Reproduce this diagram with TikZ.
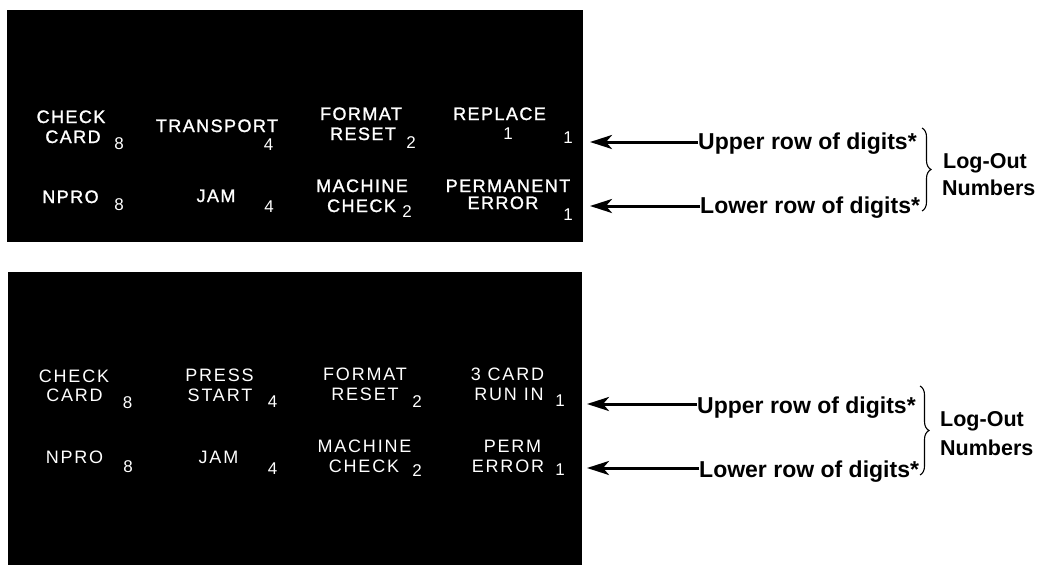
\documentclass[tikz,border=0pt]{standalone}
\usepackage{fontspec}
\setmainfont{Liberation Sans}
\newfontfamily\panelfont[LetterSpace=8,FakeBold=1.3]{Liberation Sans}
\newfontfamily\paneltwofont[LetterSpace=10]{Liberation Sans}
\usetikzlibrary{arrows.meta,decorations.pathreplacing}
\begin{document}
\begin{tikzpicture}[x=1pt,y=-1pt,
  lab/.style={text=white,font=\panelfont\fontsize{18}{18}\selectfont,inner sep=0pt,anchor=base},
  labb/.style={text=white,font=\paneltwofont\fontsize{18}{18}\selectfont,inner sep=0pt,anchor=base},
  dig/.style={text=white,font=\fontsize{17}{17}\selectfont,inner sep=0pt,anchor=base},
  note/.style={font=\bfseries\fontsize{23}{23}\selectfont,inner sep=0pt,anchor=base west},
  side/.style={font=\bfseries\fontsize{21.5}{21.5}\selectfont,inner sep=0pt,anchor=base west},
  ptr/.style={line width=3pt,-{Stealth[length=22pt,width=14pt,inset=6pt]}},
  brc/.style={decorate,decoration={brace,amplitude=9pt},line width=1.1pt},
  panel/.style={fill=black,draw=none}]
\useasboundingbox (0,0) rectangle (1041,565);
% panels
\fill[panel] (7,10) rectangle (583,242);
\fill[panel] (8,272) rectangle (582,565);

% ---- panel 1 ----
\node[lab] (p1a1) at (71,123) {CHECK};
\node[lab] (p1a2) at (73,143) {CARD};
\node[dig] (p1a3) at (119,149) {8};
\node[lab] (p1b1) at (217,132) {TRANSPORT};
\node[dig] (p1b3) at (268.5,150) {4};
\node[lab] (p1c1) at (361,120) {FORMAT};
\node[lab] (p1c2) at (363,140) {RESET};
\node[dig] (p1c3) at (411,148) {2};
\node[lab] (p1d1) at (499.5,120) {REPLACE};
\node[dig] (p1d2) at (508,139) {1};
\node[dig] (p1d3) at (568,143) {1};
\node[lab] (p1e1) at (70.5,203) {NPRO};
\node[dig] (p1e3) at (119,210) {8};
\node[lab] (p1f1) at (216,202) {JAM};
\node[dig] (p1f3) at (269,212) {4};
\node[lab] (p1g1) at (362,192) {MACHINE};
\node[lab] (p1g2) at (361.5,212) {CHECK};
\node[dig] (p1g3) at (407,217) {2};
\node[lab] (p1h1) at (508,192) {PERMANENT};
\node[lab] (p1h2) at (503,209) {ERROR};
\node[dig] (p1h3) at (568,220) {1};

% ---- panel 2 ----
\node[labb] (p2a1) at (74,382) {CHECK};
\node[labb] (p2a2) at (74.5,401) {CARD};
\node[dig] (p2a3) at (127.5,408) {8};
\node[labb] (p2b1) at (219.5,381) {PRESS};
\node[labb] (p2b2) at (220,401) {START};
\node[dig] (p2b3) at (272.5,407) {4};
\node[labb] (p2c1) at (365,380) {FORMAT};
\node[labb] (p2c2) at (365,400) {RESET};
\node[dig] (p2c3) at (417,407) {2};
\node[labb] (p2d1) at (507.5,380) {3 CARD};
\node[labb] (p2d2) at (509,400) {RUN IN};
\node[dig] (p2d3) at (560,406) {1};
\node[labb] (p2e1) at (74.5,463) {NPRO};
\node[dig] (p2e3) at (128,472) {8};
\node[labb] (p2f1) at (218.5,463) {JAM};
\node[dig] (p2f3) at (272.5,474) {4};
\node[labb] (p2g1) at (364.5,452) {MACHINE};
\node[labb] (p2g2) at (364,472) {CHECK};
\node[dig] (p2g3) at (417,476) {2};
\node[labb] (p2h1) at (512.5,452) {PERM};
\node[labb] (p2h2) at (508,472) {ERROR};
\node[dig] (p2h3) at (560,475) {1};

% ---- annotations ----
\coordinate (t1) at (590,0);
\coordinate (t2) at (587,0);
\node[note] (up1) at (698,149) {Upper row of digits*};
\node[note] (lo1) at (700,213) {Lower row of digits*};
\node[side] (lg1) at (943,168) {Log-Out};
\node[side] (nm1) at (942,195) {Numbers};
\draw[ptr] ([yshift=7pt]up1.base west) -- ([yshift=7pt]up1.base west -| t1);
\draw[ptr] ([yshift=7pt]lo1.base west) -- ([yshift=7pt]lo1.base west -| t1);
\draw[brc] (922,128) -- (922,211);

\node[note] (up2) at (697,413) {Upper row of digits*};
\node[note] (lo2) at (699,477) {Lower row of digits*};
\node[side] (lg2) at (940,426) {Log-Out};
\node[side] (nm2) at (940,455) {Numbers};
\draw[ptr] ([yshift=9pt]up2.base west) -- ([yshift=9pt]up2.base west -| t2);
\draw[ptr] ([yshift=9pt]lo2.base west) -- ([yshift=9pt]lo2.base west -| t2);
\draw[brc] (920,386) -- (920,475);
\end{tikzpicture}
\end{document}
